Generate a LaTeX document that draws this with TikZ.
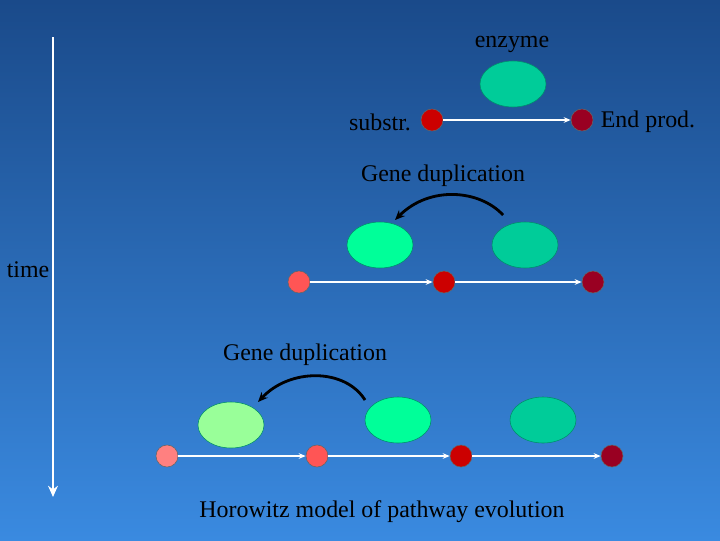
\documentclass[tikz,border=0pt]{standalone}
\usepackage{fontspec}
\setmainfont{Liberation Serif}
\usetikzlibrary{arrows.meta,shapes.geometric}
\definecolor{bgtop}{HTML}{1A4A8A}
\definecolor{bgbot}{HTML}{3A8AE0}
\definecolor{enzA}{HTML}{00CC99}
\definecolor{enzB}{HTML}{00FF99}
\definecolor{enzC}{HTML}{99FF99}
\definecolor{rA}{HTML}{CC0000}
\definecolor{rB}{HTML}{990022}
\definecolor{rC}{HTML}{FF5555}
\definecolor{rD}{HTML}{FF8080}
\tikzset{
  lbl/.style={text=black,font=\fontsize{17}{20}\selectfont,inner sep=0pt},
  enz/.style={ellipse,draw=enzA!70!black,line width=0.4pt,minimum width=33*0.05cm,minimum height=23*0.05cm,inner sep=0pt},
  met/.style={circle,draw=black!60,line width=0.4pt,minimum size=22*0.025cm,inner sep=0pt},
  flow/.style={white,line width=0.9pt,-{Stealth[length=5pt,width=4pt]}},
  dup/.style={black,line width=2pt,-{Stealth[length=7pt,width=6pt]}}
}
\begin{document}
\begin{tikzpicture}[x=0.025cm,y=-0.025cm]
\shade[top color=bgtop,bottom color=bgbot] (0,0) rectangle (720,540);
\useasboundingbox (0,0) rectangle (720,540);
\coordinate (t1) at (53,37); \coordinate (t2) at (53,497);
\draw[white,line width=2pt,-{Stealth[length=8pt,width=7pt]}] (t1) -- (t2);
\node[lbl] (time) at (28,270) {time};
% row 1
\node[lbl] (enzl) at (512,44) {enzyme};
\node[enz,fill=enzA] (e1) at (513,84) {};
\node[lbl] (subl) at (380,122) {substr.};
\node[met,fill=rA] (m1) at (432,120) {};
\node[met,fill=rB] (m2) at (582,120) {};
\node[lbl] (endl) at (648,122) {End prod.};
\draw[flow] (m1) -- (m2);
% row 2
\node[lbl] (gd1) at (443,176) {Gene duplication};
\node[enz,fill=enzB] (e21) at (380,245) {};
\node[enz,fill=enzA] (e22) at (525,245) {};
\coordinate (c1s) at (503,215); \coordinate (c1e) at (395,220);
\draw[dup] (c1s) .. controls (480,190) and (430,185) .. (c1e);
\node[met,fill=rC] (n1) at (299,282) {};
\node[met,fill=rA] (n2) at (444,282) {};
\node[met,fill=rB] (n3) at (593,282) {};
\draw[flow] (n1) -- (n2); \draw[flow] (n2) -- (n3);
% row 3
\node[lbl] (gd2) at (305,355) {Gene duplication};
\node[enz,fill=enzC] (e31) at (231,425) {};
\node[enz,fill=enzB] (e32) at (398,420) {};
\node[enz,fill=enzA] (e33) at (543,420) {};
\coordinate (c2s) at (365,400); \coordinate (c2e) at (258,402);
\draw[dup] (c2s) .. controls (345,368) and (290,368) .. (c2e);
\node[met,fill=rD] (p1) at (167,456) {};
\node[met,fill=rC] (p2) at (317,456) {};
\node[met,fill=rA] (p3) at (461,456) {};
\node[met,fill=rB] (p4) at (612,456) {};
\draw[flow] (p1) -- (p2); \draw[flow] (p2) -- (p3); \draw[flow] (p3) -- (p4);
\node[lbl] (cap) at (382,512) {Horowitz model of pathway evolution};
\end{tikzpicture}
\end{document}
